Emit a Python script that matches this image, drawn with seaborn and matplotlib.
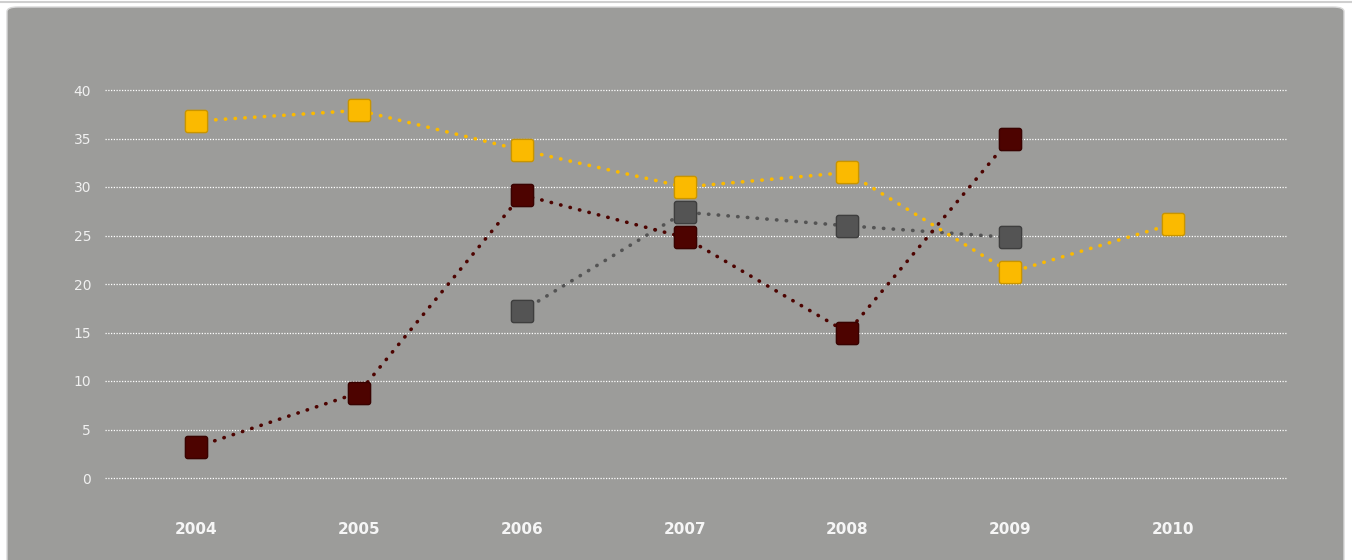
import pandas as pd
import numpy as np
import matplotlib.pyplot as plt
import seaborn as sns
from matplotlib.patches import FancyBboxPatch
from matplotlib.path import Path

years = ['2004', '2005', '2006', '2007', '2008', '2009', '2010']
yellow_years = ['2004', '2005', '2006', '2007', '2008', '2009', '2010']
yellow_vals = [36.8, 37.9, 33.8, 30.0, 31.5, 21.2, 26.2]
red_years = ['2004', '2005', '2006', '2007', '2008', '2009']
red_vals = [3.2, 8.8, 29.2, 24.8, 15.0, 35.0]
gray_years = ['2006', '2007', '2008', '2009']
gray_vals = [17.2, 27.4, 26.0, 24.8]

series = [
    ('gray', gray_years, gray_vals, '#545454', '#3e3e3e'),
    ('red', red_years, red_vals, '#4d0300', '#380200'),
    ('yellow', yellow_years, yellow_vals, '#fbba00', '#c99500'),
]

# rounded square marker shape
r = 0.22
pts = []
for cx, cy, a0 in [(1 - r, 1 - r, 0), (-1 + r, 1 - r, 90), (-1 + r, -1 + r, 180), (1 - r, -1 + r, 270)]:
    for a in np.radians(np.linspace(a0, a0 + 90, 8)):
        pts.append((cx + r * np.cos(a), cy + r * np.sin(a)))
pts.append(pts[0])
rsquare = Path(pts, closed=True)

sns.set_style('white')
fig = plt.figure(figsize=(13.52, 5.6), dpi=100)
fig.patch.set_facecolor('white')

# rounded gray panel behind everything
W, H = 1352, 560
panel = FancyBboxPatch((7 / W, -20 / H), 1337 / W, (H - 7 + 20) / H,
                       boxstyle='round,pad=0,rounding_size=0.008',
                       transform=fig.transFigure, facecolor='#9c9c9a',
                       edgecolor='#d8d8d8', linewidth=1, zorder=-5)
fig.patches.append(panel)
fig.add_artist(plt.Line2D([0, 1], [1 - 2 / H, 1 - 2 / H], transform=fig.transFigure,
                          color='#cfcfcf', linewidth=1.5, zorder=-5))

# axes: x from 105 to 1287 px, y from 60 to 500 px
ax = fig.add_axes([105 / W, (H - 500) / H, (1287 - 105) / W, 440 / H])
ax.set_facecolor('none')
ax.set_zorder(2)

px_per_unit = (478 - 90) / 40
ax.set_ylim(-(500 - 478) / px_per_unit, (478 - 60) / px_per_unit)
ax.set_xlim(-0.56, 6.7)

for name, yrs, vals, col, edge in series:
    d = pd.DataFrame({'pos': [years.index(y) for y in yrs], 'value': vals})
    sns.lineplot(data=d, x='pos', y='value', ax=ax, color=col, linewidth=2.6,
                 marker=rsquare, markersize=16, markeredgecolor=edge, markeredgewidth=1,
                 dashes=False, zorder=3)
    ln = ax.lines[-1]
    ln.set_linestyle((0, (0.1, 2.6)))
    ln.set_dash_capstyle('round')
    ln.set_solid_capstyle('round')

yticks = [0, 5, 10, 15, 20, 25, 30, 35, 40]
ax.set_yticks(yticks)
for t in yticks:
    ax.axhline(t, color='white', linestyle=(0, (1, 1.2)), linewidth=0.9, zorder=1)
ax.set_xticks(range(len(years)))
ax.set_xticklabels(years)
ax.tick_params(axis='y', colors='#f0f0f0', labelsize=10, length=0, pad=10)
ax.tick_params(axis='x', colors='#f6f6f6', labelsize=11, length=0, pad=16)
for lab in ax.get_xticklabels():
    lab.set_fontweight('bold')
ax.set_xlabel('')
ax.set_ylabel('')
sns.despine(ax=ax, left=True, bottom=True)
ax.grid(False)

fig.savefig('out.png', dpi=100, facecolor='white')
